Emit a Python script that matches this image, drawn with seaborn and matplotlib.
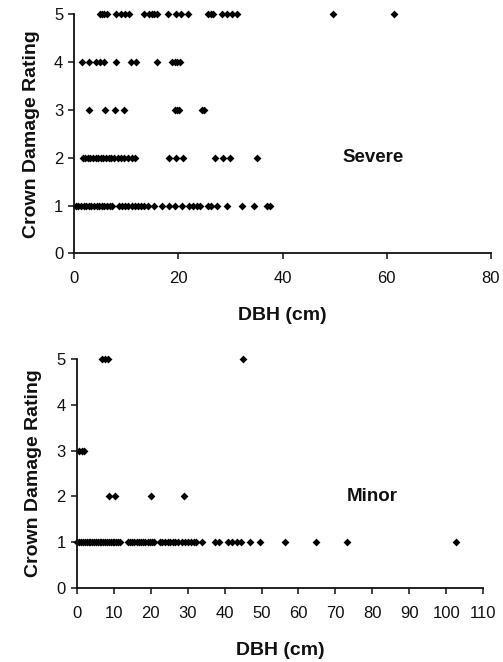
import matplotlib
matplotlib.use("Agg")
import matplotlib.pyplot as plt
import seaborn as sns
import pandas as pd

# ---- Data: Severe damage plot (DBH in cm per crown damage rating) ----
severe_r5 = [5.0, 5.4, 5.8, 6.2, 8.1, 9.0, 9.7, 10.5, 13.3, 14.4, 14.9, 15.4, 15.9,
             18.0, 19.5, 20.5, 21.9, 25.7, 26.2, 26.6, 28.4, 29.3, 30.3, 31.3, 49.7, 61.5]
severe_r4 = [1.5, 2.9, 4.1, 5.0, 5.7, 8.1, 10.8, 11.8, 15.9, 18.7, 19.3, 19.8, 20.4]
severe_r3 = [2.9, 5.9, 7.9, 9.5, 19.4, 19.8, 20.2, 24.6, 25.0]
severe_r2 = [1.6, 2.1, 2.6, 3.1, 3.6, 4.1, 4.6, 5.1, 5.6, 6.1, 6.6, 7.1, 7.7, 8.3, 8.9,
             9.6, 10.3, 11.0, 11.7, 18.2, 19.5, 20.8, 27.1, 28.5, 30.0, 35.1]
severe_r1 = [0.3, 0.8, 1.3, 1.8, 2.3, 2.8, 3.3, 3.8, 4.3, 4.8, 5.3, 5.8, 6.3, 6.8, 7.3,
             8.6, 9.2, 9.8, 10.4, 11.0, 11.6, 12.2, 12.8, 13.4, 14.1, 15.3, 16.8, 18.1,
             19.4, 20.6, 22.1, 22.8, 23.5, 24.2, 25.6, 26.2, 27.5, 29.3, 32.3, 34.6, 37.0, 37.6]

# ---- Data: Minor damage plot ----
minor_r5 = [6.8, 7.6, 8.4, 45.0]
minor_r3 = [0.5, 1.3, 2.1]
minor_r2 = [8.8, 10.4, 20.0, 29.0]
minor_r1 = [0.2, 0.7, 1.2, 1.7, 2.2, 2.7, 3.2, 3.7, 4.2, 4.7, 5.2, 5.7, 6.2, 6.7, 7.2,
            7.7, 8.2, 8.7, 9.2, 9.7, 10.2, 10.7, 11.2, 11.6, 13.8, 14.4, 15.0, 15.6,
            16.2, 16.8, 17.4, 18.0, 18.6, 19.2, 19.8, 20.4, 21.0, 22.5, 23.2, 23.9,
            24.6, 25.3, 26.0, 26.7, 27.4, 28.4, 29.2, 30.0, 30.8, 31.6, 32.4, 33.8,
            37.4, 38.6, 40.9, 42.1, 43.3, 44.5, 47.0, 49.7, 56.4, 64.8, 73.2, 102.5]

severe_xticks = [0, 20, 40, 60, 80]
minor_xticks = [0, 10, 20, 30, 40, 50, 60, 70, 80, 90, 100, 110]
rating_ticks = [0, 1, 2, 3, 4, 5]


def to_frame(rows):
    recs = []
    for rating, vals in rows:
        for v in vals:
            recs.append({"DBH": v, "Rating": rating})
    return pd.DataFrame(recs)


severe_df = to_frame([(5, severe_r5), (4, severe_r4), (3, severe_r3),
                      (2, severe_r2), (1, severe_r1)])
minor_df = to_frame([(5, minor_r5), (3, minor_r3), (2, minor_r2), (1, minor_r1)])

sns.set_style("ticks")
plt.rcParams['font.family'] = ['Liberation Sans', 'DejaVu Sans']

fig = plt.figure(figsize=(5.03, 6.62), dpi=100)
W, H = 503, 662

def add_axes(x0, x1, ytop, ybot):
    return fig.add_axes([x0 / W, 1 - ybot / H, (x1 - x0) / W, (ybot - ytop) / H])

ax1 = add_axes(74.3, 490.7, 14.3, 253.3)
ax2 = add_axes(76.7, 483.3, 359.3, 587.7)

configs = [
    (ax1, severe_df, severe_xticks, (0, 80), "Severe", 57.4, 2.0),
    (ax2, minor_df, minor_xticks, (0, 110), "Minor", 80.0, 2.0),
]

for ax, df, xticks, xlim, label, tx, ty in configs:
    sns.scatterplot(data=df, x="DBH", y="Rating", ax=ax, color="black", marker="D",
                    s=16, linewidth=0, clip_on=False, legend=False)
    ax.set_xlim(*xlim)
    ax.set_ylim(0, 5)
    ax.set_xticks(xticks)
    ax.set_yticks(rating_ticks)
    ax.set_xticklabels([str(t) for t in xticks])
    ax.set_yticklabels([str(t) for t in rating_ticks])
    for side in ("top", "right"):
        ax.spines[side].set_visible(False)
    for side in ("left", "bottom"):
        ax.spines[side].set_linewidth(1.3)
        ax.spines[side].set_color("#111111")
    ax.tick_params(axis="both", direction="out", length=4, width=1.1,
                   labelsize=12, colors="#111111", pad=4)
    ax.tick_params(axis="x", pad=9)
    ax.set_xlabel("DBH (cm)", fontsize=14, fontweight="bold", labelpad=15, color="#111111")
    ax.set_ylabel("Crown Damage Rating", fontsize=14, fontweight="bold", labelpad=10,
                  color="#111111")
    ax.text(tx, ty, label, fontsize=13.5, fontweight="bold", ha="center", va="center",
            color="#111111")
    ax.set_facecolor("white")

fig.savefig("out.png", dpi=100, facecolor="white")
